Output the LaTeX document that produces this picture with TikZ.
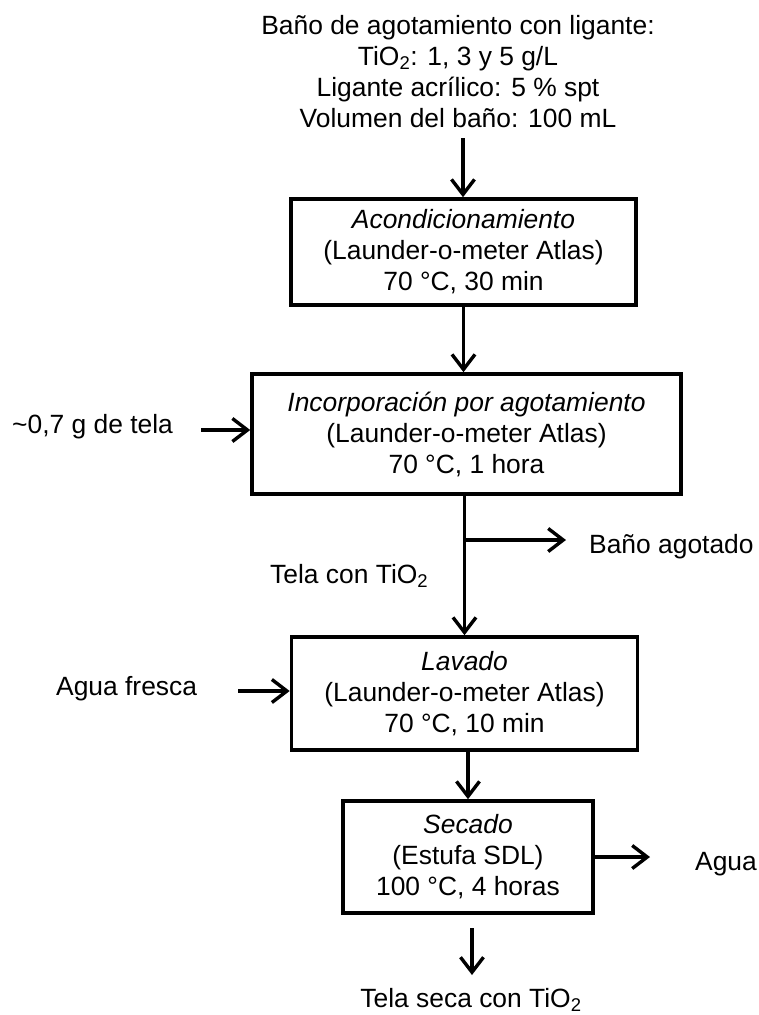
\documentclass[tikz,border=0pt]{standalone}
\usepackage{fontspec}
\setmainfont{Liberation Sans}
\usetikzlibrary{arrows.meta}
\begin{document}
\begin{tikzpicture}[x=1pt,y=-1pt,
  every node/.style={inner sep=0pt, font=\fontsize{26.4}{31}\selectfont},
  stage/.style={draw, line width=3.6pt, align=center},
  flow/.style={line width=3.4pt, -{Straight Barb[length=15pt,width=23pt]}}]
\useasboundingbox (0,0) rectangle (759,1015);

% feed description
\node[align=center, anchor=north] (feed) at (458,15)
  {Baño de agotamiento con ligante:\\
   TiO\textsubscript{2}: 1, 3 y 5 g/L\\
   Ligante acrílico: 5 \% spt\\
   Volumen del baño: 100 mL};

% process stages
\node[stage, minimum width=345pt, minimum height=106pt] (box1) at (463.5,252)
  {\textit{Acondicionamiento}\\(Launder-o-meter Atlas)\\70 °C, 30 min};
\node[stage, minimum width=429pt, minimum height=120pt] (box2) at (466.5,434)
  {\textit{Incorporación por agotamiento}\\(Launder-o-meter Atlas)\\70 °C, 1 hora};
\node[stage, minimum width=346pt, minimum height=113pt] (box3) at (464.5,693.5)
  {\textit{Lavado}\\(Launder-o-meter Atlas)\\70 °C, 10 min};
\node[stage, minimum width=250pt, minimum height=112pt] (box4) at (468,857)
  {\textit{Secado}\\(Estufa SDL)\\100 °C, 4 horas};

% side streams
\node[anchor=base west] (tela) at (12,433) {\textasciitilde 0,7 g de tela};
\node[anchor=base west] (fresca) at (56,695) {Agua fresca};
\node[anchor=base west] (telacon) at (270,583) {Tela con TiO\textsubscript{2}};
\node[anchor=base west] (agotado) at (589,553) {Baño agotado};
\node[anchor=base west] (vapor) at (695,870) {Agua};
\node[anchor=base] (product) at (471,1007) {Tela seca con TiO\textsubscript{2}};

% free ends of the connectors
\coordinate (c0) at (463,138);
\coordinate (in1) at (201,430);
\coordinate (in2) at (238,691);
\coordinate (split) at (464,540);
\coordinate (drain) at (566,540);
\coordinate (vout) at (650,857);
\coordinate (c5) at (472,928);
\coordinate (c6) at (472,975);

% connectors
\draw[flow] (c0) -- (c0 |- box1.north);
\draw[flow] (box1.south) -- (box1.south |- box2.north);
\draw[flow] (in1) -- (in1 -| box2.west);
\draw[flow] (box2.south -| box3.north) -- (box3.north);
\draw[flow] (split) -- (drain);
\draw[flow] (in2) -- (in2 -| box3.west);
\draw[flow] (box3.south -| box4.north) -- (box4.north);
\draw[flow] (box4.east) -- (vout);
\draw[flow] (c5) -- (c6);
\end{tikzpicture}
\end{document}
